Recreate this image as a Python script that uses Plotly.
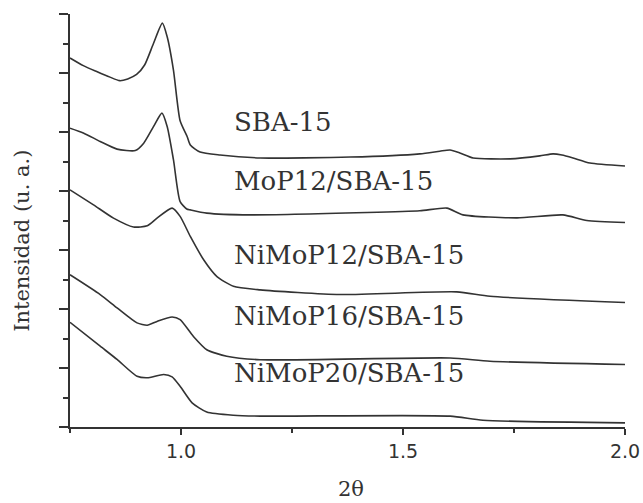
import plotly.graph_objects as go

# Low-angle XRD patterns (2θ in degrees, intensity in arbitrary units, offset per sample)
samples = ["SBA-15", "MoP12/SBA-15", "NiMoP12/SBA-15", "NiMoP16/SBA-15", "NiMoP20/SBA-15"]

sba15_x = [0.75, 0.78, 0.81, 0.84, 0.862, 0.88, 0.90, 0.918, 0.938, 0.958, 0.969,
           0.983, 0.998, 1.014, 1.021, 1.043, 1.088, 1.178, 1.381, 1.538, 1.583, 1.606,
           1.628, 1.658, 1.741, 1.808, 1.838, 1.858, 1.883, 1.921, 2.0]
sba15_y = [12.51, 12.25, 12.05, 11.86, 11.74, 11.80, 11.95, 12.27, 13.00, 13.69, 13.22,
           12.10, 10.38, 9.84, 9.56, 9.32, 9.22, 9.12, 9.15, 9.26, 9.35, 9.39,
           9.29, 9.12, 9.09, 9.19, 9.26, 9.22, 9.12, 8.95, 8.85]

mop12_x = [0.75, 0.78, 0.818, 0.856, 0.897, 0.916, 0.938, 0.957, 0.969, 0.983, 0.998,
           1.013, 1.021, 1.058, 1.156, 1.419, 1.538, 1.599, 1.635, 1.757, 1.86, 1.914, 2.0]
mop12_y = [10.13, 9.97, 9.68, 9.42, 9.37, 9.62, 10.18, 10.64, 10.18, 9.06, 7.64,
           7.39, 7.36, 7.25, 7.19, 7.27, 7.33, 7.42, 7.19, 7.09, 7.19, 7.00, 6.93]

nimop12_x = [0.75, 0.803, 0.848, 0.893, 0.924, 0.946, 0.980, 0.998, 1.021, 1.051, 1.081,
             1.118, 1.178, 1.358, 1.621, 1.696, 2.0]
nimop12_y = [8.04, 7.53, 7.08, 6.78, 6.82, 7.08, 7.42, 7.14, 6.46, 5.67, 5.10,
             4.77, 4.65, 4.49, 4.58, 4.43, 4.22]

nimop16_x = [0.75, 0.818, 0.856, 0.901, 0.924, 0.946, 0.980, 0.998, 1.028, 1.058, 1.103,
             1.178, 1.606, 1.696, 2.0]
nimop16_y = [5.16, 4.49, 4.04, 3.53, 3.45, 3.58, 3.73, 3.64, 3.07, 2.62, 2.40,
             2.28, 2.34, 2.23, 2.12]

nimop20_x = [0.75, 0.818, 0.856, 0.901, 0.924, 0.961, 0.980, 0.998, 1.025, 1.058, 1.118,
             1.178, 1.606, 1.68, 2.0]
nimop20_y = [3.55, 2.74, 2.29, 1.72, 1.67, 1.78, 1.70, 1.38, 0.82, 0.51, 0.40,
             0.37, 0.37, 0.23, 0.14]

# Where each sample name is written (2θ, intensity)
label_x = 1.115
label_y = [10.34, 8.34, 5.84, 3.76, 1.82]

series = [(sba15_x, sba15_y), (mop12_x, mop12_y), (nimop12_x, nimop12_y),
          (nimop16_x, nimop16_y), (nimop20_x, nimop20_y)]

ink = "#333333"
fig = go.Figure()
for name, (xs, ys) in zip(samples, series):
    fig.add_trace(go.Scatter(
        x=xs, y=ys, mode="lines", name=name, showlegend=False,
        line=dict(color=ink, width=1.6, shape="spline", smoothing=0.6),
    ))

for name, ly in zip(samples, label_y):
    fig.add_annotation(
        x=label_x, y=ly, text=name, showarrow=False,
        xanchor="left", yanchor="middle",
        font=dict(family="DejaVu Serif", size=26, color=ink),
    )

# Axis captions, placed as free text outside the plotting area
fig.add_annotation(
    xref="paper", yref="paper", x=-0.087, y=0.45,
    text="Intensidad (u. a.)", textangle=-90, showarrow=False,
    xanchor="center", yanchor="middle",
    font=dict(family="DejaVu Serif", size=21, color=ink),
)
fig.add_annotation(
    xref="paper", yref="paper", x=0.506, y=-0.15,
    text="2θ", showarrow=False,
    xanchor="center", yanchor="middle",
    font=dict(family="DejaVu Serif", size=21, color=ink),
)

fig.update_layout(
    width=643, height=503,
    margin=dict(l=70, r=18, t=14, b=76),
    paper_bgcolor="white", plot_bgcolor="white",
    xaxis=dict(
        range=[0.75, 2.0], tick0=1.0, dtick=0.5, tickformat=".1f",
        ticks="outside", ticklen=6, tickwidth=1.5, tickcolor=ink,
        minor=dict(dtick=0.25, tick0=0.75, ticks="outside", ticklen=4,
                   tickwidth=1.5, tickcolor=ink),
        showline=True, linewidth=2, linecolor=ink,
        showgrid=False, zeroline=False, automargin=False,
        tickfont=dict(family="DejaVu Sans", size=19, color=ink),
    ),
    yaxis=dict(
        range=[0, 14], tick0=0, dtick=2,
        ticks="outside", ticklen=9, tickwidth=1.5, tickcolor=ink,
        minor=dict(dtick=1, ticks="outside", ticklen=5, tickwidth=1.5, tickcolor=ink),
        showticklabels=False,
        showline=True, linewidth=2, linecolor=ink,
        showgrid=False, zeroline=False, automargin=False,
    ),
)

fig.write_html("out.html")
